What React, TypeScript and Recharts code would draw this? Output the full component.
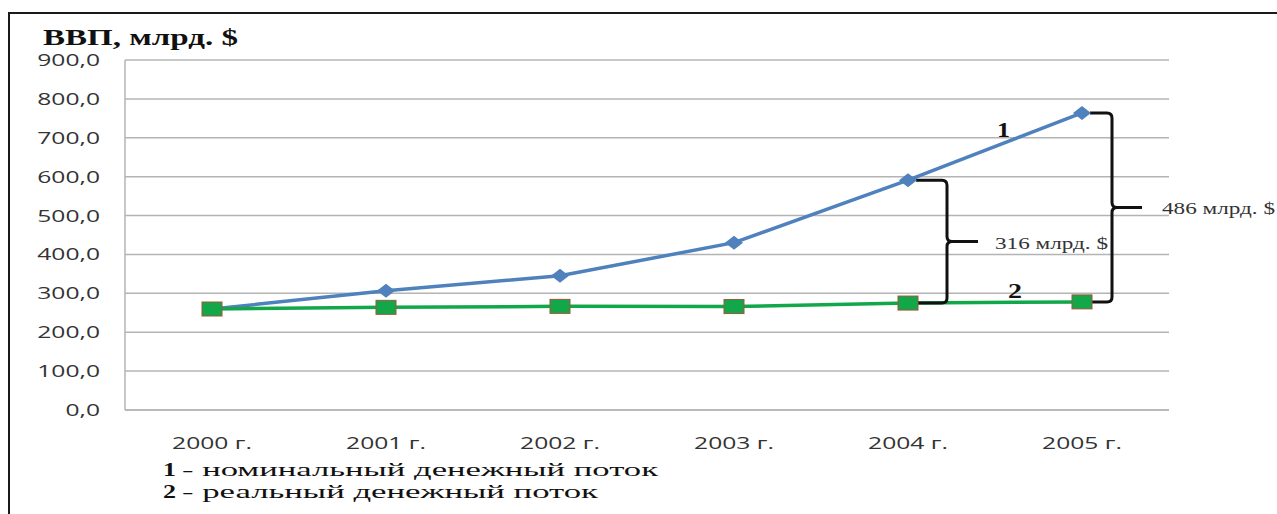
import React from 'react';
import { LineChart, Line, XAxis, YAxis, CartesianGrid, ReferenceLine } from 'recharts';

// ВВП России, млрд. $
const YEARS = ['2000 г.', '2001 г.', '2002 г.', '2003 г.', '2004 г.', '2005 г.'];
const NOMINAL = [259.7, 306.6, 345.1, 430.3, 591.0, 764.0];
const REAL = [259.7, 264.0, 266.5, 266.0, 275.0, 278.0];
const Y_TICKS = [0, 100, 200, 300, 400, 500, 600, 700, 800, 900];
const LEGEND = ['номинальный денежный поток', 'реальный денежный поток'];

const data = YEARS.map((year, i) => ({ year, nominal: NOMINAL[i], real: REAL[i] }));

const W = 1277;
const H = 514;
const STRETCH = 1.45;
const TICK_FONT = '"Open Sans", "Liberation Sans", sans-serif';
const SERIF = '"Liberation Serif", "Times New Roman", serif';

const fmt = (v: number) => v.toFixed(1).replace('.', ',');

const YTick = (props: any) => {
  const { x, y, payload } = props;
  return (
    <g transform={`translate(${x},${y})`}>
      <text transform={`scale(${STRETCH},1)`} textAnchor="end" dy={6} fontSize={17} fontFamily={TICK_FONT} fill="#333">
        {fmt(payload.value)}
      </text>
    </g>
  );
};

const XTick = (props: any) => {
  const { x, y, payload } = props;
  return (
    <g transform={`translate(${x},${y})`}>
      <text transform={`scale(${STRETCH},1)`} textAnchor="middle" dy={37} fontSize={17} fontFamily={TICK_FONT} fill="#333">
        {payload.value}
      </text>
    </g>
  );
};

const Diamond = (props: any) => {
  const { cx, cy, index } = props;
  if (cx == null || cy == null) return <g key={index} />;
  return (
    <polygon
      key={index}
      points={`${cx},${cy - 7} ${cx + 9},${cy} ${cx},${cy + 7} ${cx - 9},${cy}`}
      fill="#4f81bd"
    />
  );
};

const Square = (props: any) => {
  const { cx, cy, index } = props;
  if (cx == null || cy == null) return <g key={index} />;
  return (
    <rect key={index} x={cx - 10} y={cy - 7} width={20} height={14} fill="#12a84a" stroke="#a0553a" strokeWidth={1} />
  );
};

// curly brace between the two series at one year, with the gap written beside it
const brace = (dx: number, tip: number, gap: number, labelDx: number) => (props: any) => {
  const { x1, y1, y2 } = props;
  const top = Math.min(y1, y2);
  const bot = Math.max(y1, y2);
  const mid = (top + bot) / 2;
  const vx = x1 + dx;
  const r = 5;
  const d = [
    `M ${x1 + 8} ${top}`,
    `H ${vx - r}`,
    `Q ${vx} ${top} ${vx} ${top + r}`,
    `V ${mid - r}`,
    `Q ${vx} ${mid} ${vx + r} ${mid}`,
    `H ${vx + tip}`,
    `M ${vx + r} ${mid}`,
    `Q ${vx} ${mid} ${vx} ${mid + r}`,
    `V ${bot - r}`,
    `Q ${vx} ${bot} ${vx - r} ${bot}`,
    `H ${x1 + 10}`,
  ].join(' ');
  return (
    <g>
      <path d={d} fill="none" stroke="#111" strokeWidth={3} />
      <text
        x={x1 + labelDx}
        y={mid + 7}
        fontSize={17}
        fontFamily={SERIF}
        fill="#333"
        textLength={113}
        lengthAdjust="spacingAndGlyphs"
      >
        {`${Math.round(gap)} млрд. $`}
      </text>
    </g>
  );
};

export default function App() {
  return (
    <div style={{ position: 'absolute', left: 0, top: 0, width: W, height: H, background: '#fff', overflow: 'hidden' }}>
      <div
        style={{
          position: 'absolute',
          left: 8,
          top: 12,
          width: W + 20,
          height: H + 20,
          borderLeft: '2px solid #1a1a1a',
          borderTop: '2px solid #1a1a1a',
        }}
      />
      <div style={{ position: 'absolute', left: 0, top: 0 }}>
        <LineChart width={W} height={H} data={data} margin={{ top: 60, right: 108, bottom: 74, left: 0 }}>
          <CartesianGrid vertical={false} stroke="#b4b4b4" strokeWidth={1.5} />
          <XAxis
            dataKey="year"
            padding={{ left: 87, right: 87 }}
            axisLine={{ stroke: '#b4b4b4', strokeWidth: 1.5 }}
            tickLine={false}
            tickSize={0}
            height={30}
            tick={<XTick />}
            interval={0}
          />
          <YAxis
            domain={[0, 900]}
            ticks={Y_TICKS}
            width={125}
            axisLine={{ stroke: '#b4b4b4', strokeWidth: 1.5 }}
            tickLine={false}
            tickSize={0}
            tickMargin={25}
            tick={<YTick />}
          />
          <Line
            dataKey="nominal"
            stroke="#4f81bd"
            strokeWidth={3.5}
            dot={<Diamond />}
            activeDot={false}
            isAnimationActive={false}
          />
          <Line
            dataKey="real"
            stroke="#12a84a"
            strokeWidth={3.5}
            dot={<Square />}
            activeDot={false}
            isAnimationActive={false}
          />
          <ReferenceLine
            segment={[
              { x: YEARS[4], y: NOMINAL[4] },
              { x: YEARS[4], y: REAL[4] },
            ]}
            shape={brace(39, 31, NOMINAL[4] - REAL[4], 87)}
          />
          <ReferenceLine
            segment={[
              { x: YEARS[5], y: NOMINAL[5] },
              { x: YEARS[5], y: REAL[5] },
            ]}
            shape={brace(30, 30, NOMINAL[5] - REAL[5], 80)}
          />
        </LineChart>
      </div>
      <svg width={W} height={H} style={{ position: 'absolute', left: 0, top: 0, pointerEvents: 'none' }}>
        <text x={43} y={45} fontSize={23} fontWeight="bold" fontFamily={SERIF} fill="#111" textLength={195} lengthAdjust="spacingAndGlyphs">
          ВВП, млрд. $
        </text>
        <text x={997} y={137} fontSize={21} fontWeight="bold" fontFamily={SERIF} fill="#111" textLength={13} lengthAdjust="spacingAndGlyphs">
          1
        </text>
        <text x={1008} y={298} fontSize={21} fontWeight="bold" fontFamily={SERIF} fill="#111" textLength={14} lengthAdjust="spacingAndGlyphs">
          2
        </text>
        {LEGEND.map((label, i) => (
          <g key={label}>
            <text x={163} y={476 + i * 22} fontSize={19} fontWeight="bold" fontFamily={SERIF} fill="#111" textLength={13} lengthAdjust="spacingAndGlyphs">
              {i + 1}
            </text>
            <text
              x={182}
              y={476 + i * 22}
              fontSize={19}
              fontFamily={SERIF}
              fill="#111"
              textLength={i === 0 ? 476 : 416}
              lengthAdjust="spacingAndGlyphs"
            >
              {`- ${label}`}
            </text>
          </g>
        ))}
      </svg>
    </div>
  );
}
